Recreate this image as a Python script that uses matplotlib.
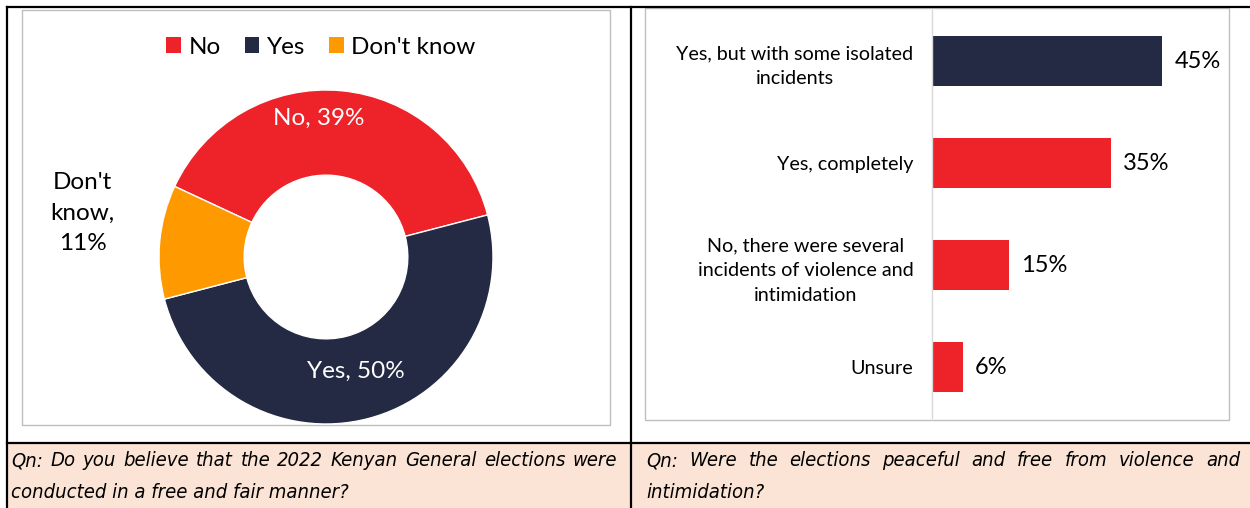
import numpy as np
import matplotlib
matplotlib.use("Agg")
import matplotlib.pyplot as plt
import matplotlib.font_manager as fm
from matplotlib.patches import Rectangle
from matplotlib.lines import Line2D

plt.rcParams['font.family'] = ['Lato', 'DejaVu Sans']

# ---------------- data ----------------
pie_labels = ['No', 'Yes', "Don't know"]
pie_values = [39, 50, 11]
pie_text = ['No, 39%', 'Yes, 50%', "Don't\nknow,\n11%"]

bar_labels = ['Yes, but with some isolated\nincidents',
              'Yes, completely',
              'No, there were several\nincidents of violence and\nintimidation',
              'Unsure']
bar_values = [45, 35, 15, 6]

caption_left = "Qn: Do you believe that the 2022 Kenyan General elections were"
caption_left2 = "conducted in a free and fair manner?"
caption_right = "Qn: Were the elections peaceful and free from violence and"
caption_right2 = "intimidation?"

# ---------------- style ----------------
RED = '#EE2229'
NAVY = '#252A44'
ORANGE = '#FF9900'
PEACH = '#FBE4D5'
GRAY = '#BFBFBF'
pie_colors = [RED, NAVY, ORANGE]
bar_colors = [NAVY, RED, RED, RED]

W, H = 1250, 508
fig = plt.figure(figsize=(W / 100, H / 100), dpi=100)


def fx(x):
    return x / W


def fy(y):
    return 1 - y / H


def px_axes(x0, y0, x1, y1):
    return fig.add_axes([fx(x0), fy(y1), (x1 - x0) / W, (y1 - y0) / H])


# background canvas axes for table and boxes
bg = fig.add_axes([0, 0, 1, 1])
bg.set_xlim(0, W)
bg.set_ylim(H, 0)
bg.axis('off')
bg.add_patch(Rectangle((7, 443), W - 7, H - 443, facecolor=PEACH, edgecolor='none', zorder=0))
bg.add_patch(Rectangle((22, 10), 588, 415, facecolor='white', edgecolor=GRAY, lw=1.0, zorder=1))
bg.add_patch(Rectangle((645, 8), 584, 412, facecolor='white', edgecolor=GRAY, lw=1.0, zorder=1))
for (xs, ys) in [((7, W), (7, 7)), ((7, W), (443, 443)), ((7, 7), (7, H)), ((631, 631), (7, H))]:
    bg.add_line(Line2D(xs, ys, color='black', lw=1.6, zorder=3))

# ---------------- donut ----------------
cx, cy, R = 326, 257, 167
axp = px_axes(cx - R, cy - R, cx + R, cy + R)
wedges, _ = axp.pie(pie_values, colors=pie_colors, startangle=155, counterclock=False,
                    radius=1.0, wedgeprops=dict(width=0.51, edgecolor='white', linewidth=1.0))
axp.set_xlim(-1, 1)
axp.set_ylim(-1, 1)
axp.set_aspect('equal')
axp.axis('off')

label_pos = [(0.83, 8), (0.71, 0), (1.48, -5)]
label_col = ['white', 'white', 'black']
for w, txt, (r, dt), col in zip(wedges, pie_text, label_pos, label_col):
    mid = np.deg2rad((w.theta1 + w.theta2) / 2 + dt)
    axp.text(r * np.cos(mid), r * np.sin(mid), txt, ha='center', va='center',
             color=col, fontsize=17.5, linespacing=1.55, clip_on=False)

leg = axp.legend(wedges, pie_labels, loc='center', bbox_to_anchor=(fx(321), fy(47)),
                 bbox_transform=fig.transFigure, ncol=3, frameon=False,
                 handlelength=0.6, handleheight=0.6, handletextpad=0.3,
                 columnspacing=1.0, fontsize=17.5)
for h in leg.legend_handles:
    h.set_edgecolor('none')

# ---------------- bars ----------------
axb = px_axes(932, 10, 1229, 418)
y = np.arange(len(bar_values))
bars = axb.barh(y, bar_values, height=0.49, color=bar_colors)
axb.set_xlim(0, (1229 - 932) / 5.12)
axb.set_ylim(len(bar_values) - 0.5, -0.5)
for s in ['top', 'right', 'bottom']:
    axb.spines[s].set_visible(False)
axb.spines['left'].set_color('#D9D9D9')
axb.spines['left'].set_linewidth(1.0)
axb.set_xticks([])
axb.set_yticks(y)
axb.set_yticklabels(bar_labels, fontsize=14.2, multialignment='center', linespacing=1.55)
axb.tick_params(axis='y', length=0, pad=13.5)
axb.patch.set_alpha(0)
for b, v in zip(bars, bar_values):
    axb.annotate(f'{v}%', (b.get_width(), b.get_y() + b.get_height() / 2),
                 xytext=(12, 0), textcoords='offset pixels', ha='left', va='center',
                 fontsize=17)

# ---------------- captions (justified) ----------------
cap_props = None
for f in fm.fontManager.ttflist:
    if f.name == 'Liberation Sans Narrow' and f.style == 'italic':
        cap_props = dict(family='Liberation Sans Narrow', style='italic')
        break
if cap_props is None:
    for f in fm.fontManager.ttflist:
        if f.name == 'DejaVu Sans' and 'condensed' in str(f.stretch) and f.style in ('oblique', 'italic'):
            cap_props = dict(family='DejaVu Sans', style='oblique', stretch='condensed')
            break
if cap_props is None:
    cap_props = dict(family='Lato', style='italic')

renderer = fig.canvas.get_renderer()


def natural_width(text, size):
    t = fig.text(0, 0, text, fontsize=size, **cap_props)
    wd = t.get_window_extent(renderer).width
    t.remove()
    return wd


cap_size = 16.5
while natural_width(caption_left, cap_size) > 600 and cap_size > 8:
    cap_size -= 0.25


def justified(text, x0, x1, ycen):
    words = text.split(' ')
    objs = [fig.text(0, fy(ycen), wd, ha='left', va='center', fontsize=cap_size, **cap_props)
            for wd in words]
    widths = [o.get_window_extent(renderer).width for o in objs]
    gap = (x1 - x0 - sum(widths)) / (len(words) - 1)
    x = x0
    for o, wdt in zip(objs, widths):
        o.set_x(fx(x))
        x += wdt + gap


def plain(text, x0, ycen):
    fig.text(fx(x0), fy(ycen), text, ha='left', va='center', fontsize=cap_size, **cap_props)


justified(caption_left, 11, 617, 461)
plain(caption_left2, 11, 492)
justified(caption_right, 646, 1240, 461)
plain(caption_right2, 646, 492)

fig.savefig('out.png', dpi=100)
